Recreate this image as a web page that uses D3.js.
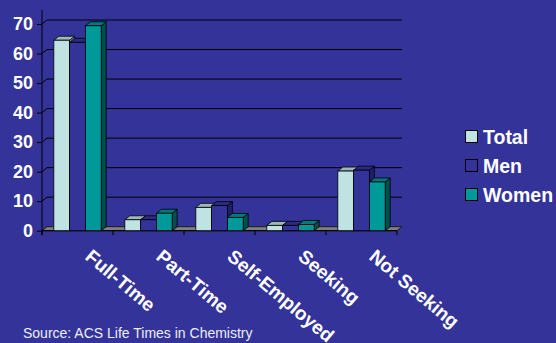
<!DOCTYPE html>
<html><head><meta charset="utf-8">
<script src="https://cdn.jsdelivr.net/npm/d3@7"></script>
<style>
html,body{margin:0;padding:0;background:#333399;}
svg{display:block;}
text{font-family:"Liberation Sans",Arial,sans-serif;}
</style></head>
<body>
<svg id="chart" width="556" height="343"></svg>
<script>
const categories = ["Full-Time","Part-Time","Self-Employed","Seeking","Not Seeking"];
const seriesNames = ["Total","Men","Women"];
const totalValues = [64.5, 3.7, 7.9, 1.8, 20.2];
const menValues = [63.8, 3.7, 8.5, 1.8, 20.5];
const womenValues = [69.4, 5.9, 4.5, 2.1, 16.5];
const yTicks = [0,10,20,30,40,50,60,70];
const sourceText = "Source: ACS Life Times in Chemistry";

const seriesValues = [totalValues, menValues, womenValues];
const colors = [
  {front:"#BFE3E3", top:"#9DB8B8", side:"#7FA0A0"},
  {front:"#333399", top:"#2B2B82", side:"#20206A"},
  {front:"#009999", top:"#007A7A", side:"#004F4F"}
];
const DX = 5, DY = -4;

const svg = d3.select("#chart");
svg.append("rect").attr("width",556).attr("height",343).attr("fill","#333399");

const x0 = d3.scaleBand().domain(categories).range([42,397]).paddingInner(0).paddingOuter(0);
const bw = x0.bandwidth()/4.5;
const x1 = d3.scaleBand().domain(seriesNames).range([bw*0.75, bw*3.75]).padding(0);
const y = d3.scaleLinear().domain([0,70]).range([230.7,24]);

// back wall gridlines
const g = svg.append("g");
yTicks.filter(t=>t>0).forEach(t=>{
  const yy = y(t);
  g.append("line").attr("x1",42+DX).attr("x2",397+DX).attr("y1",yy+DY).attr("y2",yy+DY)
    .attr("stroke", t===70 ? "#1a1a4f" : "#000").attr("stroke-width", t===70 ? 2 : 1);
  g.append("line").attr("x1",42).attr("y1",yy).attr("x2",42+DX).attr("y2",yy+DY)
    .attr("stroke","#000").attr("stroke-width",1);
});

// floor
const f0 = y(0);
g.append("path")
  .attr("d",`M42,${f0} L397,${f0} L${397+DX},${f0+DY} L${42+DX},${f0+DY} Z`)
  .attr("fill","#808080").attr("stroke","#1a1a1a").attr("stroke-width",1);

// y axis
const yAxis = d3.axisLeft(y).tickValues(yTicks).tickSize(5).tickPadding(4).tickFormat(d3.format("d"));
const ya = svg.append("g").attr("transform","translate(42,0)").call(yAxis);
ya.select(".domain").remove();
ya.selectAll(".tick line").attr("stroke","#000");
ya.selectAll(".tick text").attr("fill","#fff").attr("font-size",18).attr("font-weight","bold")
  .attr("font-family","Liberation Sans, Arial, sans-serif");
svg.append("line").attr("x1",42).attr("x2",42).attr("y1",10).attr("y2",235).attr("stroke","#000");

// x axis
const xa = d3.axisBottom(x0).tickSize(0).tickFormat("");
const xg = svg.append("g").attr("transform",`translate(0,${f0})`).call(xa);
xg.select(".domain").attr("stroke","#000").attr("d",`M42,0H397`);
xg.selectAll(".tick").remove();
const bounds = [42].concat(categories.map(c=>x0(c)+x0.bandwidth()));
bounds.forEach(b=>{
  svg.append("line").attr("x1",b).attr("x2",b).attr("y1",f0).attr("y2",f0+4.5).attr("stroke","#000");
});

// bars
const bars = svg.append("g");
categories.forEach((c,ci)=>{
  seriesNames.forEach((s,si)=>{
    const v = seriesValues[si][ci];
    const xl = x0(c)+x1(s), xr = xl + x1.bandwidth();
    const yt = y(v), yb = y(0);
    const col = colors[si];
    const bg = bars.append("g");
    bg.append("path").attr("d",`M${xr},${yb} L${xr+DX},${yb+DY} L${xr+DX},${yt+DY} L${xr},${yt} Z`)
      .attr("fill",col.side).attr("stroke","#000").attr("stroke-width",0.8).attr("stroke-linejoin","round");
    bg.append("path").attr("d",`M${xl},${yt} L${xr},${yt} L${xr+DX},${yt+DY} L${xl+DX},${yt+DY} Z`)
      .attr("fill",col.top).attr("stroke","#000").attr("stroke-width",0.8).attr("stroke-linejoin","round");
    bg.append("rect").attr("x",xl).attr("y",yt).attr("width",xr-xl).attr("height",yb-yt)
      .attr("fill",col.front).attr("stroke","#000").attr("stroke-width",0.8);
  });
});

// x labels
svg.append("g").selectAll("text").data(categories).join("text")
  .attr("transform",d=>`translate(${x0(d)+x0.bandwidth()/2+6.5},258.5) rotate(40)`)
  .attr("fill","#fff").attr("font-size",19).attr("font-weight","bold")
  .text(d=>d);

// legend
const lg = svg.append("g");
seriesNames.forEach((s,i)=>{
  const cy = 136.5 + i*29;
  lg.append("rect").attr("x",465.5).attr("y",cy-6).attr("width",12).attr("height",12)
    .attr("fill",colors[i].front).attr("stroke","#000").attr("stroke-width",1);
  lg.append("text").attr("x",483).attr("y",cy).attr("dy","0.36em")
    .attr("fill","#fff").attr("font-size",19.5).attr("font-weight","bold").text(s);
});

// source
svg.append("text").attr("x",23).attr("y",338).attr("fill","#eeeef6").attr("font-size",14).text(sourceText);
</script>
</body></html>
